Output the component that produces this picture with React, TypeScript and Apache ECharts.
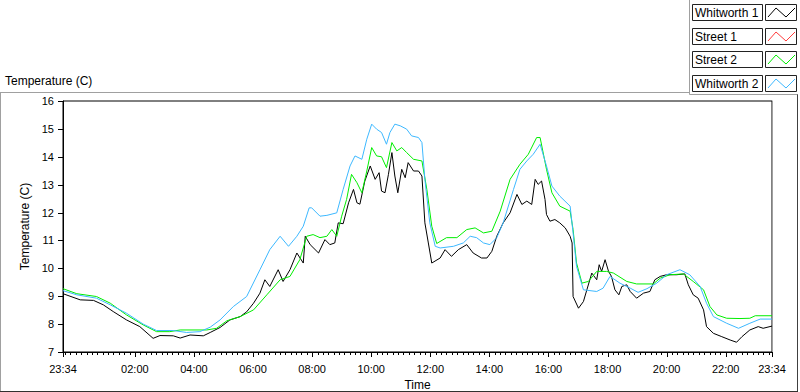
import React, { useEffect, useRef } from "react";
import * as echarts from "echarts";

const FONT = "Liberation Sans, Arial, sans-serif";

// Axis tick labels (clock time, starting 23:34, spanning 24 h)
const START_CLOCK = "23:34";
const timeTickLabels = ["23:34", "02:00", "04:00", "06:00", "08:00", "10:00", "12:00", "14:00", "16:00", "18:00", "20:00", "22:00", "23:34"];
const MINOR_PER_MAJOR = 11;
const Y_MIN = 7;
const Y_MAX = 16;
const Y_STEP = 1;

const seriesNames = ["Whitworth 1", "Street 1", "Street 2", "Whitworth 2"];
const seriesColors = ["#000000", "#ff3c3c", "#00ee00", "#3db8ff"];

// Elapsed minutes since 23:34 and temperature (C)
const w1Minutes = [0, 35, 62, 82, 102, 129, 156, 183, 197, 224, 238, 258, 285, 299, 319, 339, 360, 373, 387, 400, 410, 420, 437, 447, 461, 475, 488, 492, 502, 519, 532, 542, 552, 559, 569, 580, 590, 597, 603, 613, 624, 634, 642, 647, 654, 661, 668, 674, 680, 688, 695, 701, 712, 722, 729, 735, 742, 749, 766, 776, 789, 803, 820, 833, 850, 861, 871, 881, 894, 908, 922, 932, 942, 952, 959, 965, 972, 979, 982, 989, 999, 1009, 1020, 1030, 1034, 1036, 1047, 1057, 1064, 1074, 1084, 1089, 1094, 1101, 1108, 1114, 1121, 1129, 1135, 1145, 1152, 1165, 1179, 1192, 1202, 1213, 1226, 1246, 1263, 1270, 1280, 1290, 1301, 1307, 1321, 1338, 1355, 1368, 1379, 1395, 1412, 1422, 1440];
const w1Temps = [9.09, 8.87, 8.85, 8.69, 8.45, 8.15, 7.91, 7.49, 7.59, 7.58, 7.5, 7.61, 7.58, 7.7, 7.88, 8.15, 8.27, 8.44, 8.75, 9.11, 9.59, 9.35, 9.95, 9.53, 9.95, 10.55, 10.19, 11.15, 10.85, 10.55, 11.03, 10.85, 10.91, 11.63, 11.6, 12.35, 12.83, 12.35, 12.3, 13.13, 13.67, 13.19, 13.43, 12.77, 12.71, 13.37, 14.15, 13.31, 12.71, 13.55, 13.25, 13.79, 13.49, 13.49, 13.31, 11.63, 10.91, 10.19, 10.37, 10.67, 10.43, 10.67, 10.85, 10.55, 10.37, 10.37, 10.61, 11.15, 11.63, 11.99, 12.65, 12.29, 12.41, 12.29, 13.19, 13.01, 13.13, 12.47, 11.93, 11.69, 11.75, 11.63, 11.45, 11.15, 10.91, 8.99, 8.57, 8.81, 9.23, 9.83, 9.59, 10.13, 9.89, 10.31, 9.89, 9.71, 9.23, 9.05, 9.35, 9.41, 9.17, 8.93, 9.11, 9.17, 9.59, 9.71, 9.77, 9.77, 9.8, 9.41, 9.05, 8.93, 8.51, 7.91, 7.67, 7.55, 7.43, 7.35, 7.55, 7.79, 7.91, 7.85, 7.93];

const s1Minutes: number[] = [];
const s1Temps: number[] = [];

const s2Minutes = [0, 28, 68, 96, 129, 163, 190, 217, 238, 292, 312, 333, 360, 387, 414, 441, 461, 481, 495, 508, 522, 536, 546, 556, 566, 576, 586, 597, 607, 617, 627, 637, 647, 657, 668, 678, 688, 698, 712, 729, 739, 749, 759, 779, 800, 820, 837, 854, 871, 888, 908, 928, 945, 962, 969, 982, 993, 1009, 1030, 1036, 1043, 1054, 1067, 1084, 1104, 1118, 1145, 1165, 1199, 1213, 1233, 1260, 1280, 1301, 1314, 1328, 1348, 1375, 1395, 1406, 1440];
const s2Temps = [9.27, 9.09, 8.99, 8.75, 8.33, 7.97, 7.73, 7.73, 7.79, 7.79, 7.85, 8.12, 8.27, 8.51, 9.05, 9.59, 9.71, 10.31, 11.15, 11.21, 11.1, 11.15, 11.39, 11.15, 11.87, 12.47, 13.37, 13.07, 12.71, 13.49, 14.33, 14.03, 14.0, 13.61, 14.51, 14.21, 14.33, 14.15, 13.91, 13.85, 12.83, 11.51, 10.89, 11.1, 11.1, 11.39, 11.45, 11.27, 11.33, 12.05, 13.19, 13.73, 14.09, 14.69, 14.69, 13.55, 12.71, 12.23, 12.05, 11.39, 10.19, 9.47, 9.53, 9.89, 9.89, 9.83, 9.53, 9.44, 9.44, 9.65, 9.77, 9.8, 9.53, 9.23, 8.63, 8.33, 8.21, 8.2, 8.21, 8.3, 8.3];

const w2Minutes = [0, 28, 68, 96, 129, 163, 190, 224, 251, 278, 299, 319, 346, 373, 400, 420, 441, 458, 475, 488, 500, 505, 522, 536, 556, 569, 583, 593, 607, 617, 627, 637, 647, 657, 664, 674, 685, 698, 708, 722, 729, 735, 745, 756, 766, 793, 813, 827, 840, 854, 867, 881, 894, 915, 928, 942, 955, 969, 982, 993, 1009, 1030, 1036, 1043, 1057, 1084, 1097, 1111, 1131, 1152, 1168, 1186, 1206, 1226, 1253, 1273, 1294, 1307, 1321, 1348, 1372, 1395, 1416, 1440];
const w2Temps = [9.2, 9.05, 8.93, 8.69, 8.39, 8.0, 7.77, 7.77, 7.7, 7.73, 7.89, 8.15, 8.63, 8.99, 9.95, 10.67, 11.15, 10.79, 11.15, 11.51, 12.17, 12.17, 11.87, 11.9, 11.99, 12.83, 13.67, 14.03, 13.91, 14.63, 15.17, 14.99, 14.87, 14.45, 14.87, 15.17, 15.11, 14.99, 14.75, 14.69, 14.51, 13.19, 11.63, 10.79, 10.73, 10.79, 10.91, 11.15, 11.1, 10.91, 10.85, 11.1, 11.63, 12.83, 13.55, 13.85, 14.09, 14.45, 13.67, 12.95, 12.59, 12.23, 11.27, 10.07, 9.23, 9.17, 9.29, 9.71, 9.47, 9.29, 9.14, 9.27, 9.47, 9.77, 9.95, 9.77, 9.35, 8.75, 8.27, 8.03, 7.85, 8.03, 8.18, 8.18];

const seriesMinutes = [w1Minutes, s1Minutes, s2Minutes, w2Minutes];
const seriesTemps = [w1Temps, s1Temps, s2Temps, w2Temps];

function clockToMin(s: string) {
  const [h, m] = s.split(":").map(Number);
  return h * 60 + m;
}
const START_MIN = clockToMin(START_CLOCK);
const SPAN = 1440;
const majorTicks = timeTickLabels.map((t, i) =>
  i === timeTickLabels.length - 1 ? SPAN : (clockToMin(t) - START_MIN + 1440) % 1440
);
const minorStep = (majorTicks[2] - majorTicks[1]) / MINOR_PER_MAJOR;
const minorTicks: number[] = [];
for (let k = -Math.floor(majorTicks[1] / minorStep); ; k++) {
  const v = majorTicks[1] + k * minorStep;
  if (v > SPAN + 0.01) break;
  minorTicks.push(v);
}
const yTicks: number[] = [];
for (let v = Y_MIN; v <= Y_MAX; v += Y_STEP) yTicks.push(v);

function fmtClock(v: number) {
  const c = Math.round(START_MIN + v) % 1440;
  const h = Math.floor(c / 60);
  const m = c % 60;
  return String(h).padStart(2, "0") + ":" + String(m).padStart(2, "0");
}

export default function App() {
  const ref = useRef<HTMLDivElement>(null);
  useEffect(() => {
    document.body.style.margin = "0";
    const chart = echarts.init(ref.current!, null, { renderer: "svg" });

    const legendGraphics: any[] = [];
    const rowTop = [4, 28, 51, 75];
    seriesNames.forEach((name, i) => {
      const y = rowTop[i];
      legendGraphics.push({
        type: "rect",
        shape: { x: 692.5, y: y + 0.5, width: 70, height: 16 },
        style: { fill: "#fff", stroke: "#222", lineWidth: 1 },
      });
      legendGraphics.push({
        type: "text",
        x: 695,
        y: y + 9,
        style: { text: name, fill: "#000", font: `12px ${FONT}`, verticalAlign: "middle" },
      });
      legendGraphics.push({
        type: "rect",
        shape: { x: 765.5, y: y + 0.5, width: 31, height: 16 },
        style: { fill: "#fff", stroke: "#222", lineWidth: 1 },
      });
      legendGraphics.push({
        type: "polyline",
        shape: { points: [[768, y + 13], [776, y + 4], [786, y + 13], [795, y + 4]] },
        style: { stroke: seriesColors[i], lineWidth: 1, fill: null },
      });
    });

    const frame: any[] = [
      { type: "line", shape: { x1: 0, y1: 92.5, x2: 689, y2: 92.5 }, style: { stroke: "#a0a0a0", lineWidth: 1 } },
      { type: "line", shape: { x1: 689.5, y1: 0, x2: 689.5, y2: 94.5 }, style: { stroke: "#a0a0a0", lineWidth: 1 } },
      { type: "line", shape: { x1: 689.5, y1: 94.5, x2: 798, y2: 94.5 }, style: { stroke: "#a0a0a0", lineWidth: 1 } },
      { type: "line", shape: { x1: 797.5, y1: 94.5, x2: 797.5, y2: 391.5 }, style: { stroke: "#404040", lineWidth: 1 } },
      { type: "line", shape: { x1: 0.5, y1: 92.5, x2: 0.5, y2: 391.5 }, style: { stroke: "#a0a0a0", lineWidth: 1 } },
      { type: "line", shape: { x1: 0, y1: 391.5, x2: 798, y2: 391.5 }, style: { stroke: "#303030", lineWidth: 1 } },
      {
        type: "text",
        x: 5,
        y: 81,
        style: { text: "Temperature (C)", fill: "#000", font: `12px ${FONT}`, verticalAlign: "middle" },
      },
    ];

    const hidden = { axisLabel: { show: false }, axisTick: { show: false }, splitLine: { show: false } };

    // tick marks drawn through the axes' own scales
    const tickSeries = (data: number[][], dir: "x" | "y", len: number) => ({
      type: "custom",
      xAxisIndex: 0,
      yAxisIndex: 0,
      clip: false,
      silent: true,
      z: 10,
      data,
      renderItem: (_params: any, api: any) => {
        const p = api.coord([api.value(0), api.value(1)]);
        if (dir === "x") {
          const x = Math.round(p[0]) + 0.5;
          const y = Math.round(p[1]);
          return { type: "line", shape: { x1: x, y1: y, x2: x, y2: y + len }, style: { stroke: "#000", lineWidth: 1 } };
        }
        const x = Math.round(p[0]);
        const y = Math.round(p[1]) + 0.5;
        return { type: "line", shape: { x1: x - len, y1: y, x2: x, y2: y }, style: { stroke: "#000", lineWidth: 1 } };
      },
    });

    chart.setOption({
      animation: false,
      backgroundColor: "#ffffff",
      grid: {
        left: 63,
        top: 101,
        right: 28,
        bottom: 40,
        containLabel: false,
        outerBoundsMode: "none",
        show: true,
        borderColor: "#000",
        borderWidth: 1,
        backgroundColor: "transparent",
      },
      xAxis: [
        {
          type: "value",
          min: 0,
          max: SPAN,
          position: "bottom",
          axisLine: { show: true, onZero: false, lineStyle: { color: "#000", width: 1 } },
          axisTick: { show: false },
          axisLabel: {
            show: true,
            customValues: majorTicks,
            formatter: (v: number) => fmtClock(v),
            fontSize: 11,
            fontFamily: FONT,
            color: "#000",
            margin: 11,
          },
          splitLine: { show: false },
          name: "Time",
          nameLocation: "middle",
          nameGap: 26,
          nameTextStyle: { fontSize: 12, fontFamily: FONT, color: "#000" },
        },
      ],
      yAxis: [
        {
          type: "value",
          min: Y_MIN,
          max: Y_MAX,
          interval: Y_STEP,
          position: "left",
          axisLine: { show: true, onZero: false, lineStyle: { color: "#000", width: 1 } },
          axisTick: { show: false },
          axisLabel: { fontSize: 11, fontFamily: FONT, color: "#000", margin: 9 },
          splitLine: { show: false },
          name: "Temperature (C)",
          nameLocation: "middle",
          nameGap: 22,
          nameRotate: 90,
          nameTextStyle: { fontSize: 12, fontFamily: FONT, color: "#000" },
        },
        {
          type: "value",
          min: Y_MIN,
          max: Y_MAX,
          position: "right",
          axisLine: { show: true, onZero: false, lineStyle: { color: "#a0a0a0", width: 1 } },
          z: 5,
          ...hidden,
        },
      ],
      series: [
        ...seriesNames.map((name, i) => ({
          name,
          type: "line",
          xAxisIndex: 0,
          yAxisIndex: 0,
          showSymbol: false,
          symbol: "none",
          lineStyle: { color: seriesColors[i], width: 1 },
          itemStyle: { color: seriesColors[i] },
          data: seriesMinutes[i].map((m, j) => [m, seriesTemps[i][j]]),
          z: 2 + i,
        })),
        tickSeries(majorTicks.map((v) => [v, Y_MIN]), "x", 5),
        tickSeries(minorTicks.map((v) => [v, Y_MIN]), "x", 3),
        tickSeries(yTicks.map((v) => [0, v]), "y", 5),
      ],
      graphic: [...frame, ...legendGraphics],
    });
    return () => chart.dispose();
  }, []);
  return <div ref={ref} style={{ width: 800, height: 392 }} />;
}
